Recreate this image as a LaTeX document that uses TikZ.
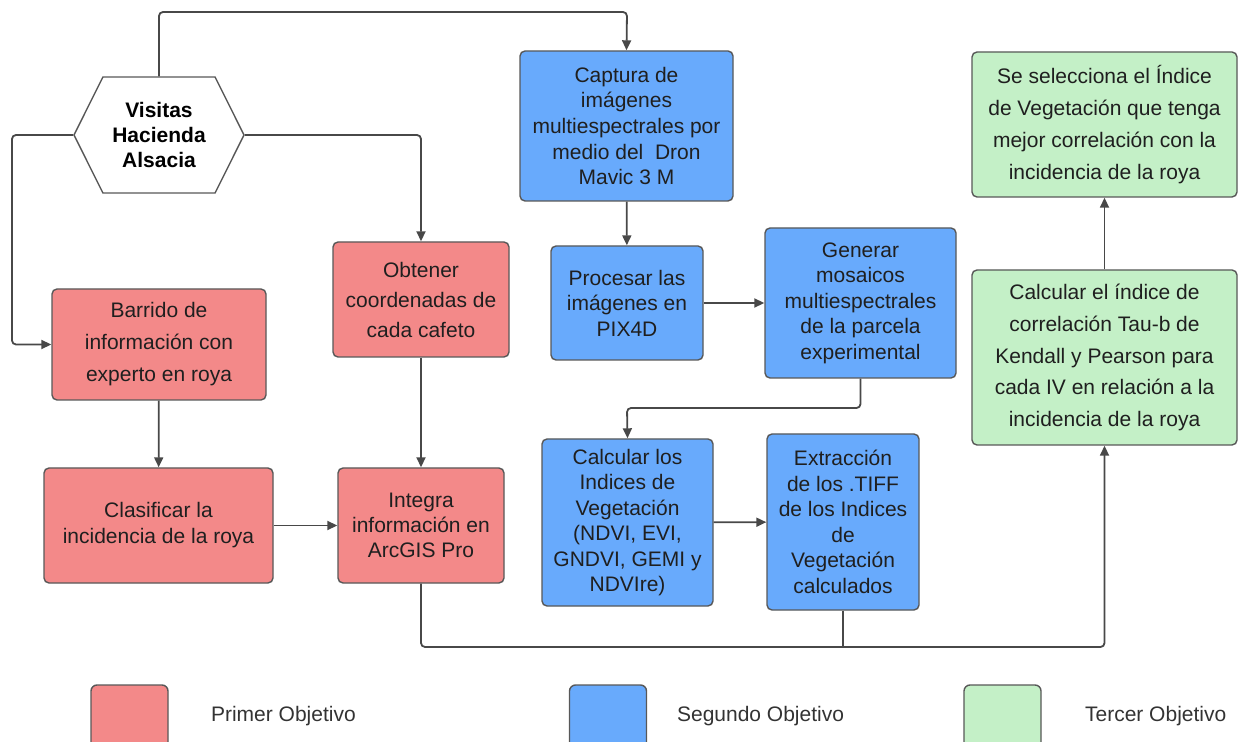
\documentclass[tikz,border=0pt]{standalone}
\usepackage{fontspec}
\setmainfont{Liberation Sans}
\usetikzlibrary{arrows.meta,shapes.symbols}
\definecolor{rojo}{RGB}{243,137,137}
\definecolor{azul}{RGB}{104,170,252}
\definecolor{verde}{RGB}{196,240,199}
\definecolor{borde}{RGB}{88,88,88}
\definecolor{linea}{RGB}{72,72,72}
\newcommand{\lsp}[1]{\fontsize{10.5pt}{#1pt}\selectfont}
\tikzset{
  caja/.style={draw=borde, line width=0.7pt, rounded corners=2.5pt, align=center, inner sep=2pt, text=black!88, font=\lsp{12.75}},
  cajaroja/.style={caja, fill=rojo},
  cajaazul/.style={caja, fill=azul},
  cajaverde/.style={caja, fill=verde},
  flecha/.style={-{Triangle[length=5pt,width=4.5pt]}, draw=linea, line width=0.9pt, rounded corners=2pt},
  linea/.style={draw=linea, line width=0.9pt, rounded corners=2pt},
  leyenda/.style={caja, minimum size=38.5pt, rounded corners=3pt},
  textoley/.style={anchor=west, text=black!80, font=\lsp{12.75}}
}
\begin{document}
\begin{tikzpicture}[x=0.5pt,y=-0.5pt]
  \useasboundingbox (0,0) rectangle (1241,742);

  \node[draw=borde, line width=0.7pt, fill=white, shape=signal, signal to=west and east, signal pointer angle=127, minimum width=85pt, minimum height=58pt, inner sep=0pt, align=center, font=\bfseries\lsp{12.5}] (visitas) at (159,135) {Visitas\\Hacienda\\Alsacia};

  \node[cajaroja, minimum width=107pt, minimum height=55.5pt, font=\lsp{16}] (barrido) at (159,344.5) {Barrido de\\información con\\experto en roya};
  \node[cajaroja, minimum width=114.5pt, minimum height=57.5pt, font=\lsp{13}] (clasificar) at (158.5,525.5) {Clasificar la\\incidencia de la roya};
  \node[cajaroja, minimum width=88pt, minimum height=57.5pt, font=\lsp{15}] (obtener) at (421,299.5) {Obtener\\coordenadas de\\cada cafeto};
  \node[cajaroja, minimum width=83pt, minimum height=57.5pt, font=\lsp{12.5}] (integra) at (421,525.5) {Integra\\información en\\ArcGIS Pro};

  \node[cajaazul, minimum width=106.5pt, minimum height=75pt] (captura) at (626.5,126) {Captura de\\imágenes\\multiespectrales por\\medio del~ Dron\\Mavic 3 M};
  \node[cajaazul, minimum width=76pt, minimum height=57pt] (procesar) at (627,303) {Procesar las\\imágenes en\\PIX4D};
  \node[cajaazul, minimum width=95.5pt, minimum height=75pt] (generar) at (860.5,303) {Generar\\mosaicos\\multiespectrales\\de la parcela\\experimental};
  \node[cajaazul, minimum width=85.5pt, minimum height=83.5pt] (indices) at (627.5,522.5) {Calcular los\\Indices de\\Vegetación\\(NDVI, EVI,\\GNDVI, GEMI y\\NDVIre)};
  \node[cajaazul, minimum width=76pt, minimum height=88pt] (extraccion) at (843,522) {Extracción\\de los .TIFF\\de los Indices\\de\\Vegetación\\calculados};

  \node[cajaverde, minimum width=132.5pt, minimum height=72.5pt, font=\lsp{15.9}] (selecciona) at (1104.5,124.5) {Se selecciona el Índice\\de Vegetación que tenga\\mejor correlación con la\\incidencia de la roya};
  \node[cajaverde, minimum width=132.5pt, minimum height=87.5pt, font=\lsp{15.9}] (correlacion) at (1104.5,357.5) {Calcular el índice de\\correlación Tau-b de\\Kendall y Pearson para\\cada IV en relación a la\\incidencia de la roya};

  \coordinate (arriba) at (627,12);
  \coordinate (izq) at (12,135);
  \coordinate (medio) at (627,408);
  \coordinate (abajo) at (843,647);

  \draw[flecha] (visitas.north) |- (arriba) -- (captura.north);
  \draw[flecha] (visitas.west) -- (izq) |- (barrido.west);
  \draw[flecha] (visitas.east) -| (obtener.north);
  \draw[flecha] (barrido) -- (clasificar);
  \draw[flecha] (obtener) -- (integra);
  \draw[flecha] (clasificar) -- (integra);
  \draw[flecha] (captura) -- (procesar);
  \draw[flecha] (procesar) -- (generar);
  \draw[flecha] (generar.south) |- (medio) -- (indices.north);
  \draw[flecha] (indices) -- (extraccion);
  \draw[linea] (extraccion.south) -- (abajo);
  \draw[flecha] (integra.south) |- (abajo) -| (correlacion.south);
  \draw[flecha] (correlacion) -- (selecciona);

  \node[leyenda, fill=rojo] (leyroja) at (129.5,723.5) {};
  \node[textoley] (txtroja) at (204,716) {Primer Objetivo};
  \node[leyenda, fill=azul] (leyazul) at (608,723.5) {};
  \node[textoley] (txtazul) at (670,716) {Segundo Objetivo};
  \node[leyenda, fill=verde] (leyverde) at (1002.5,723.5) {};
  \node[textoley] (txtverde) at (1078,716) {Tercer Objetivo};
\end{tikzpicture}
\end{document}
